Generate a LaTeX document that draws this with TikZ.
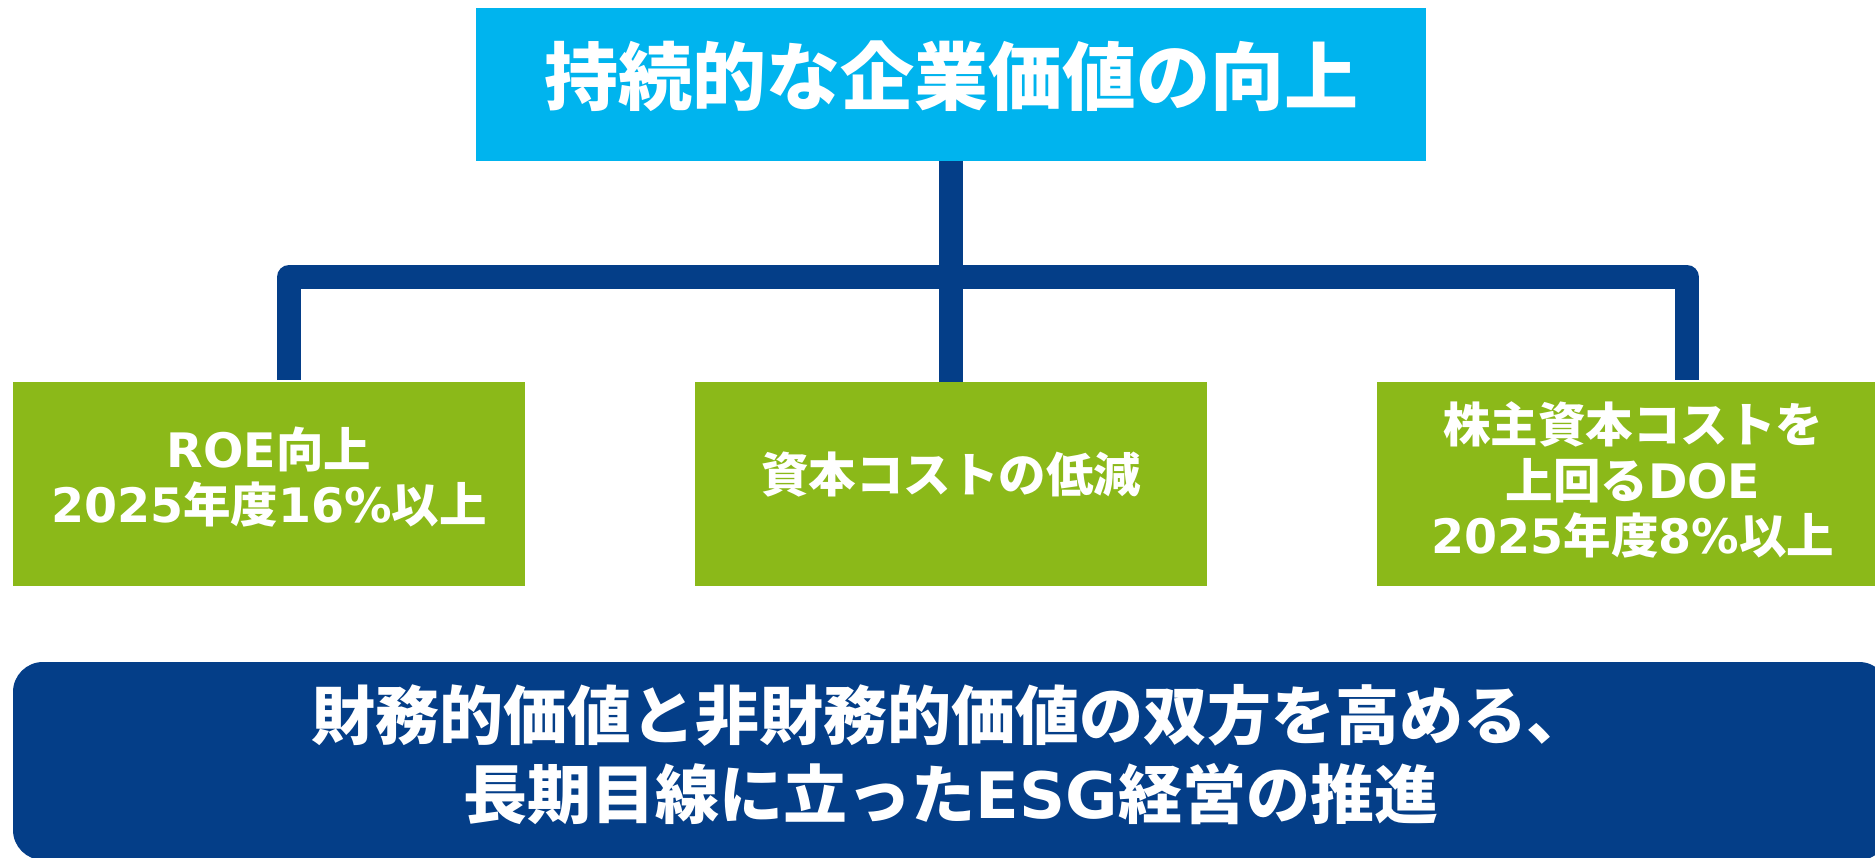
\documentclass[tikz,border=0pt]{standalone}
\usepackage{fontspec}
\newfontfamily\jp{Noto Sans CJK JP}
\newfontfamily\lat{DejaVu Sans}
\newcommand{\latw}[1]{{\lat #1}}
\definecolor{topblue}{HTML}{00B4EE}
\definecolor{navy}{HTML}{043E88}
\definecolor{leaf}{HTML}{8BB919}
\begin{document}
\begin{tikzpicture}[x=1pt,y=-1pt,
  box/.style={draw=none, inner sep=0pt, outer sep=0pt},
  topbox/.style={box, fill=topblue, minimum width=950pt, minimum height=153pt},
  greenbox/.style={box, fill=leaf, minimum width=512pt, minimum height=203pt},
  basebox/.style={box, fill=navy, rounded corners=30pt, minimum width=1876pt, minimum height=198pt},
  conn/.style={draw=navy, line width=24pt, line join=round, line cap=butt},
  txt/.style={text=white, align=center, inner sep=0pt},
  bigtxt/.style={txt, font=\jp\bfseries\fontsize{74}{80}\selectfont},
  midtxt/.style={txt, font=\jp\bfseries\fontsize{47.5}{55.5}\selectfont},
  basetxt/.style={txt, font=\jp\bfseries\fontsize{64}{79}\selectfont},
  ]
\useasboundingbox (0,0) rectangle (1875,858);
\clip (0,0) rectangle (1875,858);
\fill[white] (0,0) rectangle (1875,858);

% boxes
\node[topbox] (top) at (951,84.5) {};
\node[greenbox] (left) at (269,484) {};
\node[greenbox] (mid) at (951,484) {};
\node[greenbox] (right) at (1633,484) {};
\node[basebox] (base) at (951,761) {};

% texts
\node[midtxt] (tleft) at (269,477) {\latw{ROE}向上\\\latw{2025}年度\latw{16\%}以上};
\node[bigtxt] (ttop) at (951,76) {持続的な企業価値の向上};
\node[midtxt] (tmid) at (951,475) {資本コストの低減};
\node[midtxt] (tright) at (1633,480) {株主資本コストを\\上回る\latw{DOE}\\\latw{2025}年度\latw{8\%}以上};
\node[basetxt] (tbase) at (951,755) {財務的価値と非財務的価値の双方を高める、\\長期目線に立った\latw{ESG}経営の推進};

% connectors
\coordinate (cl) at (289,380);
\coordinate (cr) at (1687,380);
\coordinate (barl) at (289,277);
\coordinate (barr) at (1687,277);
\draw[conn] (top.south) -- (mid.north);
\draw[conn] (cl) -- (barl) -- (barr) -- (cr);
\end{tikzpicture}
\end{document}
